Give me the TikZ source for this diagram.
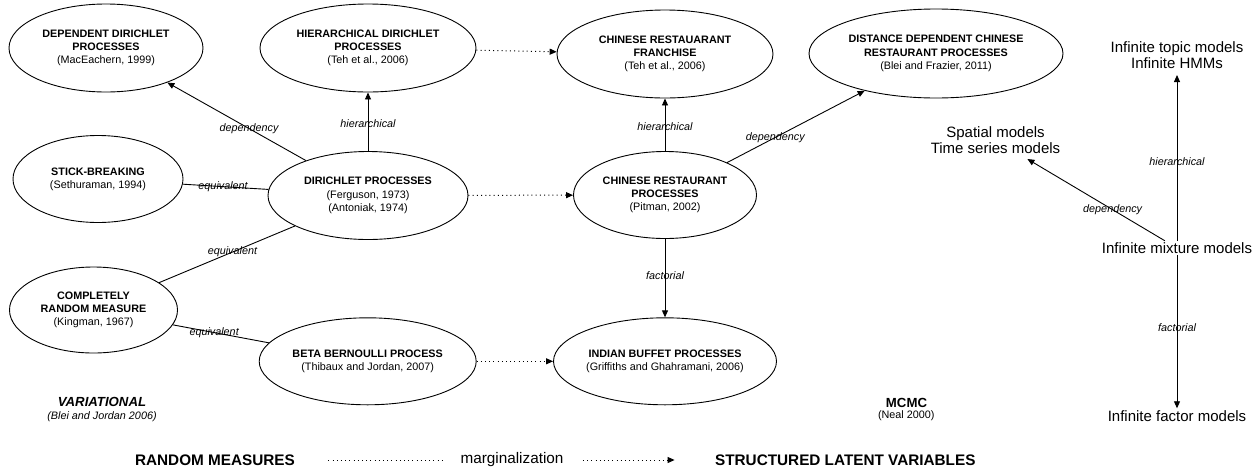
\documentclass[tikz,border=0pt]{standalone}
\usepackage{fontspec}
\setmainfont{Liberation Sans}
\usetikzlibrary{arrows.meta, positioning, shapes.geometric}

\begin{document}
\begin{tikzpicture}[
    x=1pt, y=-1pt,
    proc/.style={ellipse, draw, line width=0.9pt, inner sep=0pt, align=center,
        font=\fontsize{10.8}{13.3}\selectfont},
    model/.style={align=center, inner sep=3pt, font=\fontsize{15}{16.6}\selectfont},
    rel/.style={font=\fontsize{10.8}{13}\selectfont\itshape, inner sep=0pt},
    arr/.style={line width=0.9pt, -{Triangle[length=7pt, width=6pt]}},
    eqv/.style={line width=0.9pt},
    dots/.style={line width=1pt, dash pattern=on 1pt off 3.2pt, -{Triangle[length=7pt, width=6pt]}},
    big/.style={font=\fontsize{15.3}{18}\selectfont\bfseries},
]
    \useasboundingbox (0,0) rectangle (1258,469);

    % random measures
    \node[proc, minimum width=194pt, minimum height=88pt] (ddp) at (106,48)
        {\textbf{DEPENDENT DIRICHLET}\\\textbf{PROCESSES}\\(MacEachern, 1999)};
    \node[proc, minimum width=216pt, minimum height=88pt] (hdp) at (368,48)
        {\textbf{HIERARCHICAL DIRICHLET}\\\textbf{PROCESSES}\\(Teh et al., 2006)};
    \node[proc, minimum width=170pt, minimum height=87pt] (sb) at (98,179)
        {\textbf{STICK-BREAKING}\\(Sethuraman, 1994)};
    \node[proc, minimum width=200pt, minimum height=88pt] (dp) at (368,195.5)
        {\textbf{DIRICHLET PROCESSES}\\(Ferguson, 1973)\\(Antoniak, 1974)};
    \node[proc, minimum width=168pt, minimum height=86pt] (crm) at (93.5,310)
        {\textbf{COMPLETELY}\\\textbf{RANDOM MEASURE}\\(Kingman, 1967)};
    \node[proc, minimum width=217pt, minimum height=87pt] (bbp) at (367.7,361.3)
        {\textbf{BETA BERNOULLI PROCESS}\\(Thibaux and Jordan, 2007)};

    % structured latent variables
    \node[proc, minimum width=216pt, minimum height=88pt] (crf) at (665,54)
        {\textbf{CHINESE RESTAUARANT}\\\textbf{FRANCHISE}\\(Teh et al., 2006)};
    \node[proc, minimum width=254pt, minimum height=89pt] (ddcrp) at (936,53.5)
        {\textbf{DISTANCE DEPENDENT CHINESE}\\\textbf{RESTAURANT PROCESSES}\\(Blei and Frazier, 2011)};
    \node[proc, minimum width=183pt, minimum height=87pt] (crp) at (665,195)
        {\textbf{CHINESE RESTAURANT}\\\textbf{PROCESSES}\\(Pitman, 2002)};
    \node[proc, minimum width=216pt, minimum height=87pt] (ibp) at (665,361.3)
        {\textbf{INDIAN BUFFET PROCESSES}\\(Griffiths and Ghahramani, 2006)};

    % models
    \node[model, inner sep=6pt] (topic) at (1177,55) {Infinite topic models\\Infinite HMMs};
    \node[model, inner sep=5pt] (spatial) at (995.5,140) {Spatial models\\Time series models};
    \node[model, inner sep=1.5pt] (mix) at (1177,248) {Infinite mixture models};
    \node[model, inner sep=2pt] (factor) at (1177,416) {Infinite factor models};

    % inference
    \node[font=\fontsize{13.2}{15}\selectfont\bfseries\itshape] (vi) at (102,402.3) {VARIATIONAL};
    \node[font=\fontsize{10.8}{13}\selectfont\itshape] (vicite) at (102,416.7) {(Blei and Jordan 2006)};
    \node[font=\fontsize{13.2}{15}\selectfont\bfseries] (mcmc) at (906.5,402.7) {MCMC};
    \node[font=\fontsize{10.8}{13}\selectfont] (mcmccite) at (906.3,416) {(Neal 2000)};

    % legend
    \node[big] (rm) at (215,460) {RANDOM MEASURES};
    \node[font=\fontsize{15.3}{18}\selectfont] (mg) at (512,460) {marginalization};
    \node[big] (slv) at (845.3,460) {STRUCTURED LATENT VARIABLES};

    \draw[arr] (dp) -- node[rel, pos=.41] {dependency} (ddp);
    \draw[arr] (dp) -- node[rel, pos=.46] {hierarchical} (hdp);
    \draw[eqv] (sb) -- node[rel, pos=.47] {equivalent} (dp);
    \draw[eqv] (dp) -- node[rel, pos=.46] {equivalent} (crm);
    \draw[eqv] (crm) -- node[rel, pos=.43] {equivalent} (bbp);

    \draw[dots] (hdp) -- (crf);
    \draw[dots] (dp) -- (crp);
    \draw[dots] (bbp) -- (ibp);

    \draw[arr] (crp) -- node[rel, pos=.47] {hierarchical} (crf);
    \draw[arr] (crp) -- node[rel, pos=.35] {dependency} (ddcrp);
    \draw[arr] (crp) -- node[rel, pos=.47] {factorial} (ibp);

    \draw[arr] (mix) -- node[rel, pos=.48] {hierarchical} (topic);
    \draw[arr] (mix) -- node[rel, pos=.38] {dependency} (spatial);
    \draw[arr] (mix) -- node[rel, pos=.47] {factorial} (factor);

    \draw[dots, -, shorten <=30pt, shorten >=15pt] (rm) -- (mg);
    \draw[dots, shorten <=16pt, shorten >=37pt] (mg) -- (slv);
\end{tikzpicture}
\end{document}
